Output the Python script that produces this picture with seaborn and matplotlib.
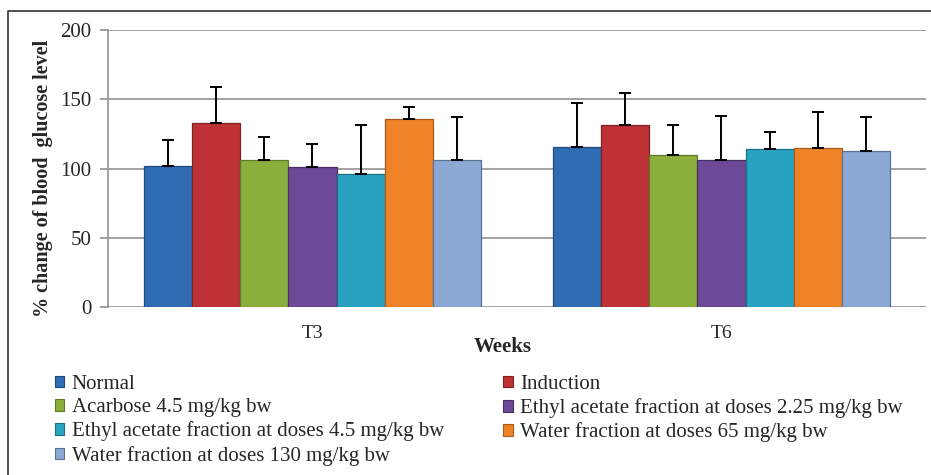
import numpy as np
import pandas as pd
import matplotlib
matplotlib.use("Agg")
import matplotlib.pyplot as plt
from matplotlib.patches import Patch
from matplotlib.lines import Line2D
import seaborn as sns

# data
weeks = ["T3", "T6"]
groups = [
    "Normal",
    "Induction",
    "Acarbose 4.5 mg/kg bw",
    "Ethyl acetate fraction at doses 2.25 mg/kg bw",
    "Ethyl acetate fraction at doses 4.5 mg/kg bw",
    "Water fraction at doses 65 mg/kg bw",
    "Water fraction at doses 130 mg/kg bw",
]
t3_mean = [102, 133, 106, 101, 96, 136, 106.5]
t3_top = [120.5, 158.5, 123, 117.5, 131.5, 144.5, 137]
t6_mean = [115.5, 131.5, 110, 106, 114, 114.5, 113]
t6_top = [147.5, 154.5, 131.5, 138, 126, 141, 137.5]

colors = ["#2F6CB3", "#BE3236", "#8BAF3D", "#6C4A97", "#2AA3C2", "#EE8427", "#8CA9D6"]
edges = ["#1F4A7C", "#7E2124", "#5E7A27", "#473066", "#1B6F85", "#A85A19", "#5C7396"]

rows = []
for i, g in enumerate(groups):
    rows.append({"week": "T3", "group": g, "value": t3_mean[i], "err": t3_top[i] - t3_mean[i]})
    rows.append({"week": "T6", "group": g, "value": t6_mean[i], "err": t6_top[i] - t6_mean[i]})
df = pd.DataFrame(rows)

sns.set_style("white")
plt.rcParams["font.family"] = ["Liberation Serif", "DejaVu Serif"]

fig = plt.figure(figsize=(9.31, 4.75), dpi=100)
ax = fig.add_axes([0.116, 0.3537, 0.8786, 0.5831])

sns.barplot(
    data=df, x="week", y="value", hue="group",
    order=weeks, hue_order=groups, palette=colors, saturation=1,
    errorbar=None, width=0.824, gap=0, ax=ax, legend=False,
    edgecolor="#333333", linewidth=0.9, zorder=3,
)

# edges + error bars, per hue container
bar_conts = list(ax.containers)
for k, cont in enumerate(bar_conts):
    g = groups[k]
    sub = df[df.group == g].set_index("week").loc[weeks]
    xs, ys = [], []
    for bar in cont.patches:
        bar.set_edgecolor(edges[k])
        xs.append(bar.get_x() + bar.get_width() / 2)
        ys.append(bar.get_height())
    ax.errorbar(xs, ys, yerr=[np.zeros(len(xs)), sub["err"].values],
                fmt="none", ecolor="black", elinewidth=1.4, capsize=4,
                capthick=1.4, zorder=4)

ax.set_ylim(0, 200)
ax.set_xlim(-0.5, 1.5)
ax.set_yticks([0, 50, 100, 150, 200])
ax.yaxis.grid(True, color="#9a9a9a", linewidth=1.3, zorder=0)
ax.set_axisbelow(True)
for s in ["top", "right", "bottom"]:
    ax.spines[s].set_visible(False)
ax.spines["left"].set_color("#9a9a9a")
ax.spines["left"].set_linewidth(1.3)
ax.tick_params(axis="y", length=6, width=1.3, color="#9a9a9a", labelsize=15, pad=6, left=True)
ax.tick_params(axis="x", length=0, labelsize=14, pad=13)

ax.set_ylabel("% change of blood  glucose level", fontsize=14.5, fontweight="bold")
ax.yaxis.set_label_coords(-0.067, 0.466)
ax.set_xlabel("Weeks", fontsize=15, fontweight="bold")
ax.xaxis.set_label_coords(0.483, -0.11)

# legend: row-wise like the original
handles = [Patch(facecolor=colors[i], edgecolor=edges[i], linewidth=0.8) for i in range(len(groups))]
order = [0, 2, 4, 6, 1, 3, 5]
fig.legend([handles[i] for i in order], [groups[i] for i in order],
           ncol=2, loc="upper left", bbox_to_anchor=(0.059, 0.21),
           frameon=False, fontsize=15, handlelength=0.45, handleheight=0.45,
           handletextpad=0.35, columnspacing=2.85, labelspacing=0.2,
           borderaxespad=0, borderpad=0)

# outer border (left + top)
fig.add_artist(Line2D([8 / 931, 8 / 931, 1.0], [0.0, 1 - 11 / 475, 1 - 11 / 475],
                      transform=fig.transFigure, color="#333333", linewidth=1.2))

fig.savefig("out.png", dpi=100)
